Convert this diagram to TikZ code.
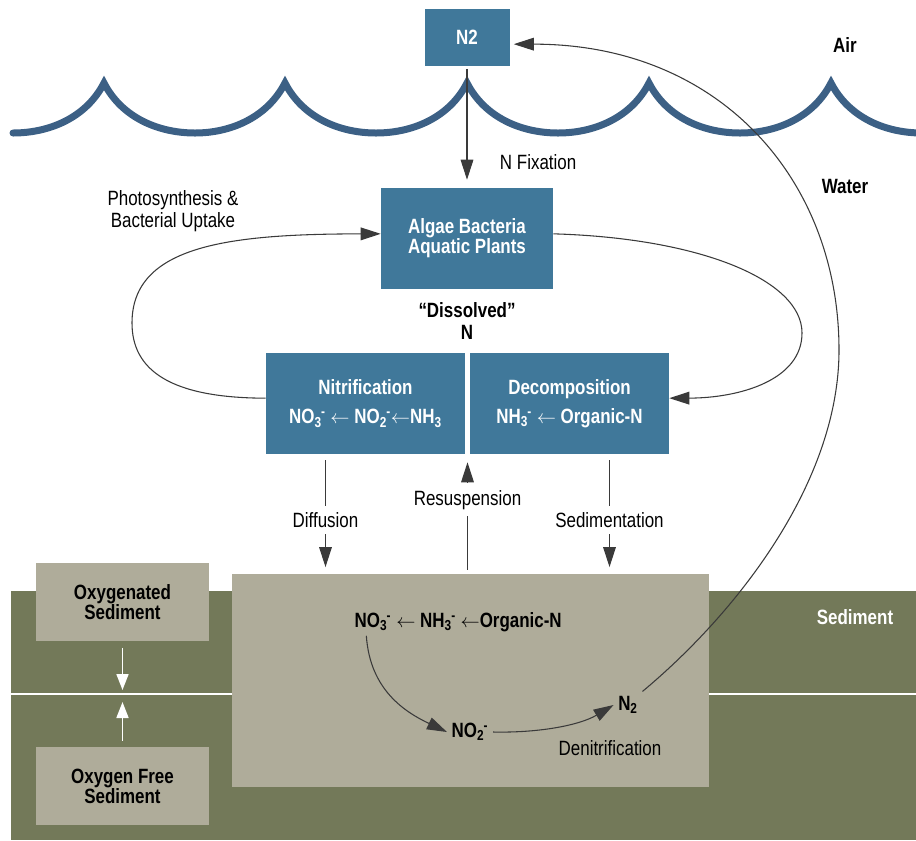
\documentclass[tikz,border=0pt]{standalone}
\usepackage{fontspec}
\setmainfont{Liberation Sans}[FakeStretch=0.82]
\usepackage{tikz}
\usetikzlibrary{arrows.meta, calc}

\definecolor{boxblue}{HTML}{40789A}
\definecolor{waveblue}{HTML}{3C6085}
\definecolor{mud}{HTML}{737959}
\definecolor{silt}{HTML}{AFAC9A}
\definecolor{inkgray}{HTML}{3A3A3A}
\newcommand{\chem}[2]{\textsubscript{#1}\kern-0.5pt\textsuperscript{#2}}

\begin{document}
\begin{tikzpicture}[x=0.75pt, y=-0.75pt, font=\fontsize{15.5}{16.5}\selectfont]
\tikzstyle{bluebox} = [rectangle, fill=boxblue, text=white, align=center, font=\bfseries\fontsize{15.5}{15}\selectfont]
\tikzstyle{siltbox} = [rectangle, fill=silt, align=center, font=\bfseries\fontsize{15.5}{15}\selectfont]
\tikzstyle{tag} = [align=center, font=\bfseries\fontsize{15.5}{16}\selectfont]
\tikzstyle{flow} = [draw=inkgray, line width=0.8pt, -{Triangle[length=15pt, width=9.5pt]}]
\tikzstyle{whiteflow} = [draw=white, line width=1.3pt, -{Triangle[length=12pt, width=9pt]}]
\tikzstyle{waterline} = [draw=waveblue, line width=5.25pt, line cap=round]

\useasboundingbox (0,0) rectangle (916,840);

% Sediment layers
\fill[mud] (11,591) rectangle (916,840);
\coordinate (lleft) at (11,694);
\coordinate (lright) at (916,694);
\draw[white, line width=1.5pt] (lleft) -- (lright);
\node (sed) [siltbox, minimum width=357.75pt, minimum height=159.75pt] at (470.5,680.5) {};
\node (oxy) [siltbox, minimum width=129.75pt, minimum height=58.5pt] at (122.5,602) {Oxygenated\\Sediment};
\node (anox) [siltbox, minimum width=129.75pt, minimum height=58.5pt] at (122.5,786) {Oxygen Free\\Sediment};

% Water surface
\draw[waterline] (13,133) \foreach \c in {104,285,467,649,831} {
  .. controls (\c-55,133) and (\c-18,118) .. (\c,83)
  .. controls (\c+18,118) and (\c+55,133) .. (\c+91,133) };

% Water column
\node (n2) [bluebox, minimum width=63.75pt, minimum height=42.75pt] at (467,37.5) {N2};
\node (algae) [bluebox, minimum width=129pt, minimum height=75.75pt] at (467,238.5) {Algae Bacteria\\Aquatic Plants};
\node (nitri) [bluebox, minimum width=149.25pt, minimum height=75.75pt] at (365.5,403.5)
  {Nitrification\\[7pt]NO\chem{3}{-} $\leftarrow$ NO\chem{2}{-}$\leftarrow$NH\textsubscript{3}};
\node (decomp) [bluebox, minimum width=149.25pt, minimum height=75.75pt] at (569.5,403.5)
  {Decomposition\\[7pt]NH\chem{3}{-} $\leftarrow$ Organic-N};
\coordinate (gap) at ($(nitri.south east)!0.5!(decomp.south west)$);

% Labels
\node (air) [tag] at (845,45) {Air};
\node (water) [tag] at (845,186) {Water};
\node (sedlabel) [tag, text=white] at (855,617) {Sediment};
\node (dissolved) [tag] at (467,321) {“Dissolved”\\N};
\node (photo) [align=center] at (173,211) {Photosynthesis \&\\Bacterial Uptake};

% Sediment chemistry
\node (sno3) [tag] at (373,622) {NO\chem{3}{-}};
\node (schain) [tag, anchor=west, inner sep=0pt] at (sno3.east) {$\leftarrow$ NH\chem{3}{-} $\leftarrow$Organic-N};
\node (sno2) [tag] at (470,732) {NO\chem{2}{-}};
\node (sn2) [tag] at (628,705) {N\textsubscript{2}};
\node (denit) at (610,748) {Denitrification};

% Connections
\draw [flow, shorten <=2pt, shorten >=6pt] (n2) -- node[right=21pt, pos=0.79] {N Fixation} (algae);
\draw [flow] ([yshift=4pt]nitri.west) .. controls (170,398) and (132,370) .. (132,323)
  .. controls (132,245) and (230,234) .. ([yshift=3.5pt]algae.west);
\draw [flow] ([yshift=3.5pt]algae.east) .. controls (700,238) and (802,280) .. (802,333)
  .. controls (802,380) and (740,398) .. ([yshift=4pt]decomp.east);
\draw [flow, shorten <=4.5pt, shorten >=5pt] ([xshift=-30pt]nitri.south) -- node[pos=0.55, fill=white, inner ysep=5pt] {Diffusion} ([xshift=-30pt]nitri.south |- sed.north);
\draw [flow, shorten <=3pt, shorten >=6pt] (sed.north -| gap) -- node[pos=0.62, fill=white, inner ysep=5pt] {Resuspension} (gap);
\draw [flow, shorten <=4.5pt, shorten >=5pt] ([xshift=30pt]decomp.south) -- node[pos=0.55, fill=white, inner ysep=5pt] {Sedimentation} ([xshift=30pt]decomp.south |- sed.north);
\draw [flow] ([xshift=-5pt]sno3.south) .. controls (370,690) and (405,712) .. (sno2.west);
\draw [flow] (sno2.east) .. controls (540,733) and (580,725) .. (sn2.west);
\draw [flow, shorten >=3pt] (sn2.north east) .. controls (740,610) and (839,480) .. (839,350)
  .. controls (839,180) and (720,44) .. ([yshift=-5pt]n2.east);
\draw [whiteflow, shorten <=5pt, shorten >=3pt] (oxy.south) -- (oxy.south |- lleft);
\draw [whiteflow, shorten <=4.5pt, shorten >=6pt] (anox.north) -- (anox.north |- lleft);

\end{tikzpicture}
\end{document}
